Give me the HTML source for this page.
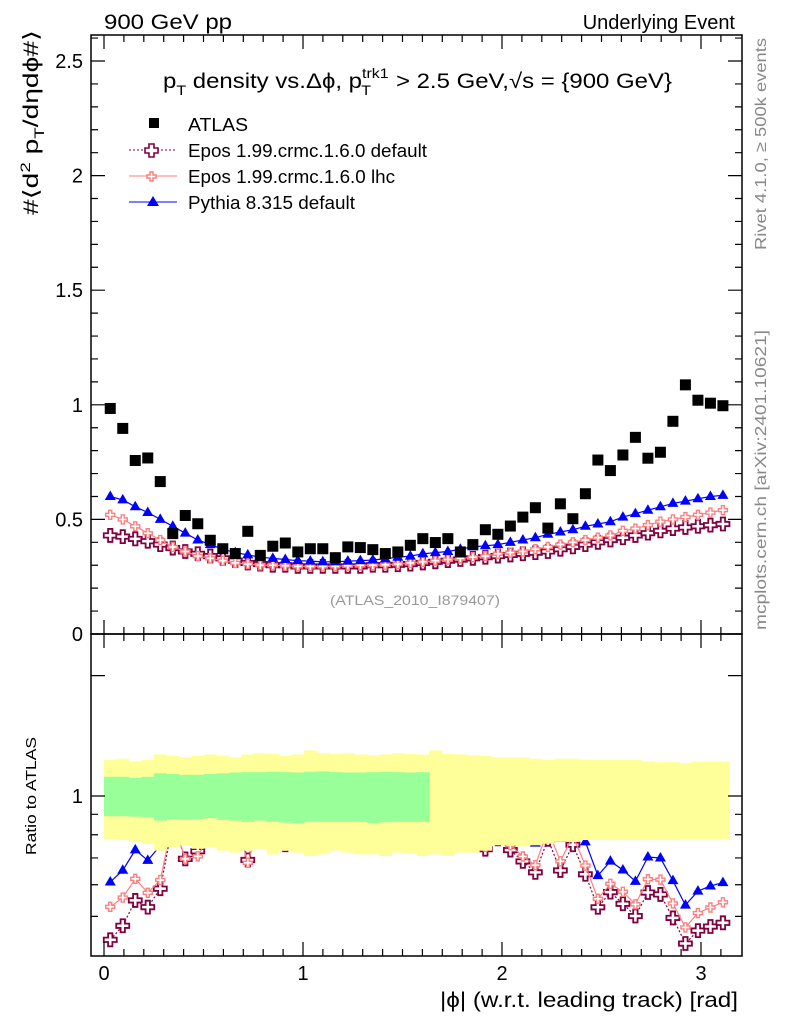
<!DOCTYPE html>
<html><head><meta charset="utf-8"><style>
body{margin:0;background:#fff}
svg{display:block;font-family:"Liberation Sans",Arial,sans-serif}
</style></head><body>
<svg id="c" width="786" height="1024" viewBox="0 0 786 1024" xmlns="http://www.w3.org/2000/svg">
<g id="bands"></g>
<g id="ratio"></g>
<g id="main"></g>
<g id="axes"></g>
<text x="104" y="29" font-size="21" textLength="128" lengthAdjust="spacingAndGlyphs">900 GeV pp</text>
<text x="735" y="29" font-size="20" text-anchor="end">Underlying Event</text>
<text x="163" y="88" font-size="21" textLength="509" lengthAdjust="spacingAndGlyphs">p<tspan font-size="14" dy="7">T</tspan><tspan dy="-7"> density vs.Δϕ, p</tspan><tspan font-size="14" dy="-10">trk1</tspan><tspan font-size="14" dx="-24" dy="17">T</tspan><tspan dy="-7" dx="16"> &gt; 2.5 GeV,√s = {900 GeV}</tspan></text>
<g>
<rect x="149" y="118" width="10" height="10" fill="#000"/>
<text x="188" y="131" font-size="18" textLength="60" lengthAdjust="spacingAndGlyphs">ATLAS</text>
<line x1="129" y1="150" x2="177" y2="150" stroke="#800040" stroke-dasharray="2,2"/>
<path d="M149 144h5v4h4v5h-4v4h-5v-4h-4v-5h4z" fill="#fff" stroke="#800040" stroke-width="1.6"/>
<text x="188" y="157" font-size="18" textLength="239" lengthAdjust="spacingAndGlyphs">Epos 1.99.crmc.1.6.0 default</text>
<line x1="129" y1="176" x2="177" y2="176" stroke="#ff7f7f"/>
<path d="M150 172h3v3h3v3h-3v3h-3v-3h-3v-3h3z" fill="#fff" stroke="#ff7f7f" stroke-width="1.5"/>
<text x="188" y="183" font-size="18" textLength="207" lengthAdjust="spacingAndGlyphs">Epos 1.99.crmc.1.6.0 lhc</text>
<line x1="129" y1="202" x2="177" y2="202" stroke="#0000ff"/>
<path d="M153 196l6 10h-12z" fill="#0000ff"/>
<text x="188" y="209" font-size="18" textLength="167" lengthAdjust="spacingAndGlyphs">Pythia 8.315 default</text>
</g>
<text x="330" y="605" font-size="14" fill="#999" textLength="170" lengthAdjust="spacingAndGlyphs">(ATLAS_2010_I879407)</text>
<text transform="translate(38,30) rotate(-90)" font-size="21" text-anchor="end" textLength="185" lengthAdjust="spacingAndGlyphs">#⟨d<tspan font-size="14" dy="-8">2</tspan><tspan dy="8"> p</tspan><tspan font-size="14" dy="6">T</tspan><tspan dy="-6">/dηdϕ#⟩</tspan></text>
<text transform="translate(766,38) rotate(-90)" font-size="16" fill="#888" text-anchor="end" textLength="212" lengthAdjust="spacingAndGlyphs">Rivet 4.1.0, ≥ 500k events</text>
<text transform="translate(766,330) rotate(-90)" font-size="16" fill="#888" text-anchor="end" textLength="300" lengthAdjust="spacingAndGlyphs">mcplots.cern.ch [arXiv:2401.10621]</text>
<text transform="translate(36,796) rotate(-90)" font-size="15" text-anchor="middle" textLength="118" lengthAdjust="spacingAndGlyphs">Ratio to ATLAS</text>
<text x="440" y="1007" font-size="21" textLength="298" lengthAdjust="spacingAndGlyphs">|ϕ| (w.r.t. leading track) [rad]</text>
</svg>
<script>
const atlas=[0.984,0.897,0.757,0.768,0.665,0.438,0.517,0.481,0.409,0.372,0.351,0.448,0.343,0.383,0.397,0.358,0.372,0.372,0.333,0.380,0.377,0.368,0.351,0.358,0.387,0.416,0.399,0.416,0.358,0.390,0.455,0.435,0.471,0.510,0.551,0.462,0.568,0.503,0.612,0.759,0.713,0.781,0.858,0.767,0.793,0.928,1.087,1.020,1.007,0.996];
const pythia=[0.60,0.585,0.555,0.53,0.50,0.47,0.44,0.41,0.39,0.37,0.355,0.345,0.335,0.33,0.325,0.32,0.318,0.315,0.315,0.318,0.32,0.323,0.328,0.335,0.34,0.35,0.355,0.36,0.37,0.38,0.385,0.39,0.40,0.41,0.42,0.435,0.445,0.455,0.47,0.48,0.49,0.51,0.525,0.54,0.555,0.57,0.58,0.59,0.60,0.605];
const eposLhc=[0.52,0.50,0.47,0.44,0.41,0.38,0.36,0.34,0.33,0.32,0.31,0.305,0.30,0.30,0.298,0.295,0.295,0.295,0.295,0.298,0.30,0.30,0.302,0.305,0.31,0.315,0.32,0.325,0.33,0.335,0.34,0.35,0.355,0.36,0.37,0.38,0.39,0.40,0.41,0.42,0.43,0.45,0.46,0.475,0.49,0.50,0.51,0.52,0.53,0.54];
const eposDef=[0.43,0.425,0.415,0.405,0.39,0.375,0.36,0.35,0.34,0.33,0.32,0.31,0.305,0.30,0.30,0.295,0.295,0.295,0.295,0.295,0.295,0.30,0.30,0.302,0.305,0.31,0.315,0.32,0.325,0.33,0.335,0.34,0.345,0.35,0.355,0.36,0.37,0.38,0.39,0.40,0.41,0.42,0.43,0.44,0.45,0.46,0.465,0.47,0.475,0.48];
const yelUp=[1.23,1.24,1.22,1.23,1.27,1.26,1.25,1.26,1.27,1.26,1.25,1.27,1.28,1.275,1.26,1.27,1.30,1.28,1.275,1.28,1.27,1.265,1.27,1.28,1.275,1.27,1.30,1.275,1.27,1.265,1.26,1.25,1.25,1.25,1.24,1.23,1.24,1.24,1.23,1.23,1.23,1.23,1.23,1.22,1.215,1.215,1.21,1.22,1.22,1.22];
const yelDn=[0.78,0.776,0.768,0.76,0.73,0.745,0.753,0.738,0.745,0.73,0.722,0.73,0.738,0.715,0.73,0.722,0.708,0.715,0.73,0.722,0.715,0.715,0.708,0.722,0.718,0.708,0.715,0.708,0.722,0.722,0.73,0.753,0.753,0.748,0.753,0.76,0.768,0.768,0.776,0.776,0.776,0.776,0.776,0.776,0.776,0.776,0.78,0.78,0.78,0.78];
const grnUp=[1.117,1.117,1.11,1.117,1.14,1.135,1.13,1.13,1.135,1.14,1.145,1.147,1.147,1.15,1.147,1.145,1.15,1.152,1.147,1.145,1.145,1.147,1.149,1.147,1.145,1.147];
const grnDn=[0.89,0.89,0.888,0.885,0.868,0.875,0.872,0.875,0.88,0.872,0.868,0.862,0.868,0.862,0.858,0.856,0.862,0.862,0.862,0.862,0.862,0.856,0.86,0.862,0.862,0.862];
const xTicks=["0","1","2","3"];
const yTicks=["0","0.5","1","1.5","2","2.5"];
const NS="http://www.w3.org/2000/svg";
const L=91,R=742,T=35,M=634,B=956;
const nb=atlas.length,bw=Math.PI/nb;
const X=v=>104+199*v;
const Y=v=>634-229.2*v;
const RY=v=>796-400*Math.log10(v);
function mk(tag,attrs,parent){const e=document.createElementNS(NS,tag);for(const k in attrs)e.setAttribute(k,attrs[k]);parent.appendChild(e);return e;}
const gm=document.getElementById('main'),gr=document.getElementById('ratio'),gb=document.getElementById('bands'),ga=document.getElementById('axes');
const defs=mk('defs',{},document.getElementById('c'));
const cp=mk('clipPath',{id:'rc'},defs);mk('rect',{x:L,y:M,width:R-L,height:B-M},cp);
gr.setAttribute('clip-path','url(#rc)');
function cross(g,x,y,s,col,w){const a=s/3,b=s;const p=`M${x-a} ${y-b}h${2*a}v${b-a}h${b-a}v${2*a}h${a-b}v${b-a}h${-2*a}v${a-b}h${a-b}v${-2*a}h${b-a}z`;const e=mk('path',{d:p,fill:'#fff',stroke:col,'stroke-width':w},g);return e;}
function tri(g,x,y,col){return mk('path',{d:`M${x} ${y-6}l5.5 9.5h-11z`,fill:col},g);}
const series=[
 {v:eposDef,col:'#800040',dash:'2,2',mark:'cd',name:'epos-default'},
 {v:eposLhc,col:'#ff7f7f',dash:'',mark:'cl',name:'epos-lhc'},
 {v:pythia,col:'#0000ff',dash:'',mark:'t',name:'pythia'}];
for(const s of series){
 for(const [g,fy,suffix] of [[gm,(v,i)=>Y(v),'main'],[gr,(v,i)=>RY(v/atlas[i]),'ratio']]){
  const pts=s.v.map((v,i)=>X((i+0.5)*bw).toFixed(1)+','+fy(v,i).toFixed(1)).join(' ');
  const pl=mk('polyline',{points:pts,fill:'none',stroke:s.col,'stroke-width':1.2,'stroke-dasharray':s.dash},g);
  
  
  s.v.forEach((v,i)=>{const x=X((i+0.5)*bw),y=fy(v,i);let e;
   if(s.mark==='cd')e=cross(g,x,y,6.5,s.col,1.8);else if(s.mark==='cl')e=cross(g,x,y,4.5,s.col,1.4);else e=tri(g,x,y,s.col);
   
   });
 }
}
atlas.forEach((v,i)=>{const e=mk('rect',{x:X((i+0.5)*bw)-5.5,y:Y(v)-5.5,width:11,height:11,fill:'#000'},gm);
 
 });
yelUp.forEach((u,i)=>{const x0=X(i*bw),x1=X((i+1)*bw);
 const e=mk('rect',{x:x0,y:RY(u),width:x1-x0+0.5,height:RY(yelDn[i])-RY(u),fill:'#ffff99'},gb);
 
 });
grnUp.forEach((u,i)=>{const x0=X(i*bw),x1=X((i+1)*bw);
 const e=mk('rect',{x:x0,y:RY(u),width:x1-x0+0.5,height:RY(grnDn[i])-RY(u),fill:'#99ff99'},gb);
 
 });
document.getElementById('c').insertBefore(gr,gb);
for(const [y0,y1] of [[T,M],[M,B]]){const f=mk('rect',{x:L,y:y0,width:R-L,height:y1-y0,fill:'none',stroke:'#000','stroke-width':1.5},ga);
 
 }
let d='';
for(let k=0;k<=31;k++){const v=k*0.1;const x=X(v);if(x>R)break;const len=(k%10===0)?14:7;
 d+=`M${x} ${M}v${-len}M${x} ${T}v${len}M${x} ${B}v${-len}M${x} ${M}v${len}`;}
for(let k=0;k<=26;k++){const y=Y(k*0.1);if(y<T)break;const len=(k%5===0)?14:7;d+=`M${L} ${y}h${len}M${R} ${y}h${-len}`;}
for(const r of [0.5,0.6,0.7,0.8,0.9,1,2]){const y=RY(r);const len=(r===1||r===2)?14:7;d+=`M${L} ${y}h${len}M${R} ${y}h${-len}`;}
const tk=mk('path',{d:d,stroke:'#000','stroke-width':1.2,fill:'none'},ga);


xTicks.forEach(t=>{const e=mk('text',{x:X(+t),y:980,'font-size':20,'text-anchor':'middle'},ga);e.textContent=t;
 
 });
yTicks.forEach(t=>{const e=mk('text',{x:83,y:Y(+t)+7,'font-size':20,'text-anchor':'end'},ga);e.textContent=t;
 
 });
const one=mk('text',{x:83,y:RY(1)+7,'font-size':20,'text-anchor':'end'},ga);one.textContent='1';


</script>
</body></html>
